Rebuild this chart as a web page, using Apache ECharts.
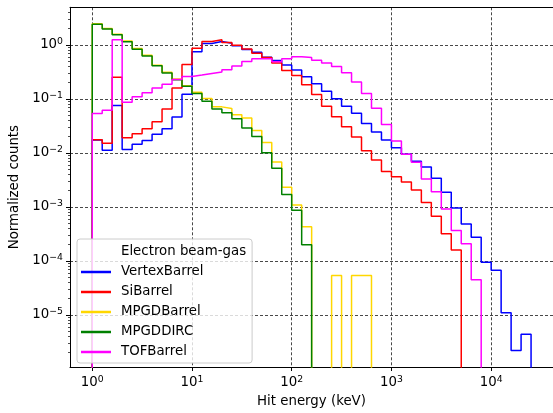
<!DOCTYPE html>
<html>
<head>
<meta charset="utf-8">
<script src="https://cdn.jsdelivr.net/npm/echarts@6/dist/echarts.min.js"></script>
<style>
  html, body { margin: 0; padding: 0; background: #fff; }
  #chart { width: 553px; height: 413px; }
</style>
</head>
<body>
<div id="chart"></div>
<script>
// 44 log bins, 0.1 decade wide, from 1 keV to 10^4.4 keV
const BIN_COUNT = 44
const BIN_WIDTH_DEC = 0.1
const binEdges = Array.from({ length: BIN_COUNT + 1 }, (_, i) => Math.pow(10, i * BIN_WIDTH_DEC))

// normalized counts per bin (0 = empty bin)
const vertexBarrel = [
  0.0173, 0.0112, 0.075, 0.0116, 0.0144, 0.017, 0.022, 0.028, 0.046, 0.122,
  0.74, 1.06, 1.15, 1.07, 0.965, 0.82, 0.725, 0.59, 0.51, 0.425,
  0.34, 0.256, 0.191, 0.138, 0.100, 0.073, 0.054, 0.035, 0.0243, 0.0173,
  0.0124, 0.0094, 0.0070, 0.0055, 0.0034, 0.00186, 0.00095, 0.00048, 0.000275, 0.000095,
  0.000067, 0.000011, 0.0000022, 0.0000044
]
const siBarrel = [
  0.0175, 0.015, 0.25, 0.019, 0.0226, 0.028, 0.0377, 0.065, 0.159, 0.43,
  0.86, 1.15, 1.24, 1.10, 0.98, 0.835, 0.70, 0.585, 0.46, 0.335,
  0.27, 0.183, 0.12, 0.073, 0.0466, 0.0305, 0.0196, 0.0109, 0.0074, 0.0045,
  0.0036, 0.0029, 0.00205, 0.00121, 0.00067, 0.00032, 0.00016
]
const mpgdBarrel = [
  2.45, 2.0, 1.56, 1.17, 0.85, 0.64, 0.42, 0.31, 0.232, 0.175,
  0.132, 0.101, 0.071, 0.066, 0.051, 0.044, 0.026, 0.0155, 0.0068, 0.0023,
  0.00108, 0.00043, 0, 0, 0.000054, 0, 0.000054, 0.000054
]
const mpgdDirc = [
  2.41, 1.97, 1.53, 1.14, 0.83, 0.62, 0.41, 0.30, 0.226, 0.171,
  0.126, 0.090, 0.065, 0.055, 0.043, 0.029, 0.020, 0.0101, 0.0052, 0.00170,
  0.00087, 0.00020
]
const tofBarrel = [
  0.0536, 0.0618, 1.24, 0.0866, 0.109, 0.129, 0.159, 0.186, 0.227, 0.26,
  0.275, 0.295, 0.315, 0.345, 0.405, 0.49, 0.55, 0.55, 0.485, 0.55,
  0.60, 0.58, 0.52, 0.46, 0.395, 0.305, 0.205, 0.125, 0.067, 0.0336,
  0.0166, 0.0094, 0.0067, 0.0033, 0.0019, 0.00091, 0.000365, 0.000207, 0.000045
]

const seriesNames = ['VertexBarrel', 'SiBarrel', 'MPGDBarrel', 'MPGDDIRC', 'TOFBarrel']
const seriesValues = [vertexBarrel, siBarrel, mpgdBarrel, mpgdDirc, tofBarrel]
const seriesColors = ['#0000ff', '#ff0000', '#ffd700', '#008000', '#ff00ff']
const legendTitle = 'Electron beam-gas'

const xMajor = [1, 10, 100, 1000, 10000]
const yMajor = [1e-5, 1e-4, 1e-3, 1e-2, 1e-1, 1]

const X_MIN = Math.pow(10, -0.223)
const X_MAX = Math.pow(10, 4.62)
const Y_MIN = Math.pow(10, -5.963)
const Y_MAX = Math.pow(10, 0.694)
const FLOOR = 1e-9  // empty bins drop below the axis

const FONT = '"DejaVu Sans", sans-serif'
const FS = 13.33

const yMinor = []
for (let k = -6; k <= 0; k++) {
  for (let m = 2; m <= 9; m++) {
    const v = m * Math.pow(10, k)
    if (v > Y_MIN && v < Y_MAX) yMinor.push(v)
  }
}

// matplotlib-style step outline: up from the floor, flat tops, back down at the end
function stepPoints(values) {
  const pts = [[binEdges[0], FLOOR]]
  values.forEach((v, i) => pts.push([binEdges[i], v > 0 ? v : FLOOR]))
  const n = values.length
  const last = values[n - 1] > 0 ? values[n - 1] : FLOOR
  pts.push([binEdges[n], last])
  pts.push([binEdges[n], FLOOR])
  return pts
}

function powLabel(v) {
  const e = Math.round(Math.log10(v))
  return '{b|10}{s|' + String(e).replace('-', '\u2212') + '}'
}

const richPow = {
  b: { fontFamily: FONT, fontSize: FS, color: '#000', lineHeight: 16 },
  s: { fontFamily: FONT, fontSize: 9.3, color: '#000', lineHeight: 10, verticalAlign: 'top' }
}

const gridLine = { show: true, lineStyle: { color: '#333', width: 0.9, type: [3, 2] } }
const spine = { show: true, lineStyle: { color: '#000', width: 1 } }

const chart = echarts.init(document.getElementById('chart'), null, { renderer: 'canvas' })

chart.setOption({
  animation: false,
  backgroundColor: '#fff',
  grid: {
    left: 70,
    top: 7.3,
    width: 484.3,
    height: 361.7,
    containLabel: false
  },
  xAxis: [
    {
      type: 'log',
      logBase: 10,
      min: X_MIN,
      max: X_MAX,
      name: 'Hit energy (keV)',
      nameLocation: 'middle',
      nameGap: 28,
      nameTextStyle: { fontFamily: FONT, fontSize: FS, color: '#000' },
      axisLine: spine,
      axisTick: { show: true, length: 4, customValues: xMajor, lineStyle: { color: '#000', width: 1 } },
      axisLabel: { customValues: xMajor, formatter: powLabel, rich: richPow, margin: 8 },
      splitLine: gridLine
    },
    {
      // top spine
      type: 'log',
      logBase: 10,
      min: X_MIN,
      max: X_MAX,
      position: 'top',
      axisLine: spine,
      axisTick: { show: false },
      axisLabel: { show: false },
      splitLine: { show: false }
    }
  ],
  yAxis: [
    {
      type: 'log',
      logBase: 10,
      min: Y_MIN,
      max: Y_MAX,
      name: 'Normalized counts',
      nameLocation: 'middle',
      nameGap: 47,
      nameTextStyle: { fontFamily: FONT, fontSize: FS, color: '#000' },
      axisLine: spine,
      axisTick: { show: true, length: 4, customValues: yMajor, lineStyle: { color: '#000', width: 1 } },
      axisLabel: { customValues: yMajor, formatter: powLabel, rich: richPow, margin: 7 },
      splitLine: gridLine
    },
    {
      // minor ticks only
      type: 'log',
      logBase: 10,
      min: Y_MIN,
      max: Y_MAX,
      position: 'left',
      axisLine: { show: false },
      axisTick: { show: true, length: 2, customValues: yMinor, lineStyle: { color: '#000', width: 0.7 } },
      axisLabel: { show: false },
      splitLine: { show: false }
    }
  ],
  legend: {
    orient: 'vertical',
    left: 77,
    top: 239,
    padding: [6, 6, 4, 4],
    itemGap: 6,
    itemWidth: 30,
    itemHeight: 2.5,
    icon: 'rect',
    selectedMode: false,
    backgroundColor: 'rgba(255,255,255,0.8)',
    borderColor: '#cccccc',
    borderWidth: 1,
    borderRadius: 3,
    textStyle: { fontFamily: FONT, fontSize: FS, color: '#000', lineHeight: 14, padding: [0, 0, 0, 5] },
    data: [{ name: legendTitle, icon: 'none' }].concat(seriesNames)
  },
  series: [{ name: legendTitle, type: 'line', data: [] }].concat(
    seriesNames.map((name, i) => ({
      name,
      type: 'line',
      step: 'end',
      symbol: 'none',
      color: seriesColors[i],
      lineStyle: { width: 1.5, color: seriesColors[i] },
      clip: true,
      data: stepPoints(seriesValues[i])
    }))
  )
})
</script>
</body>
</html>
